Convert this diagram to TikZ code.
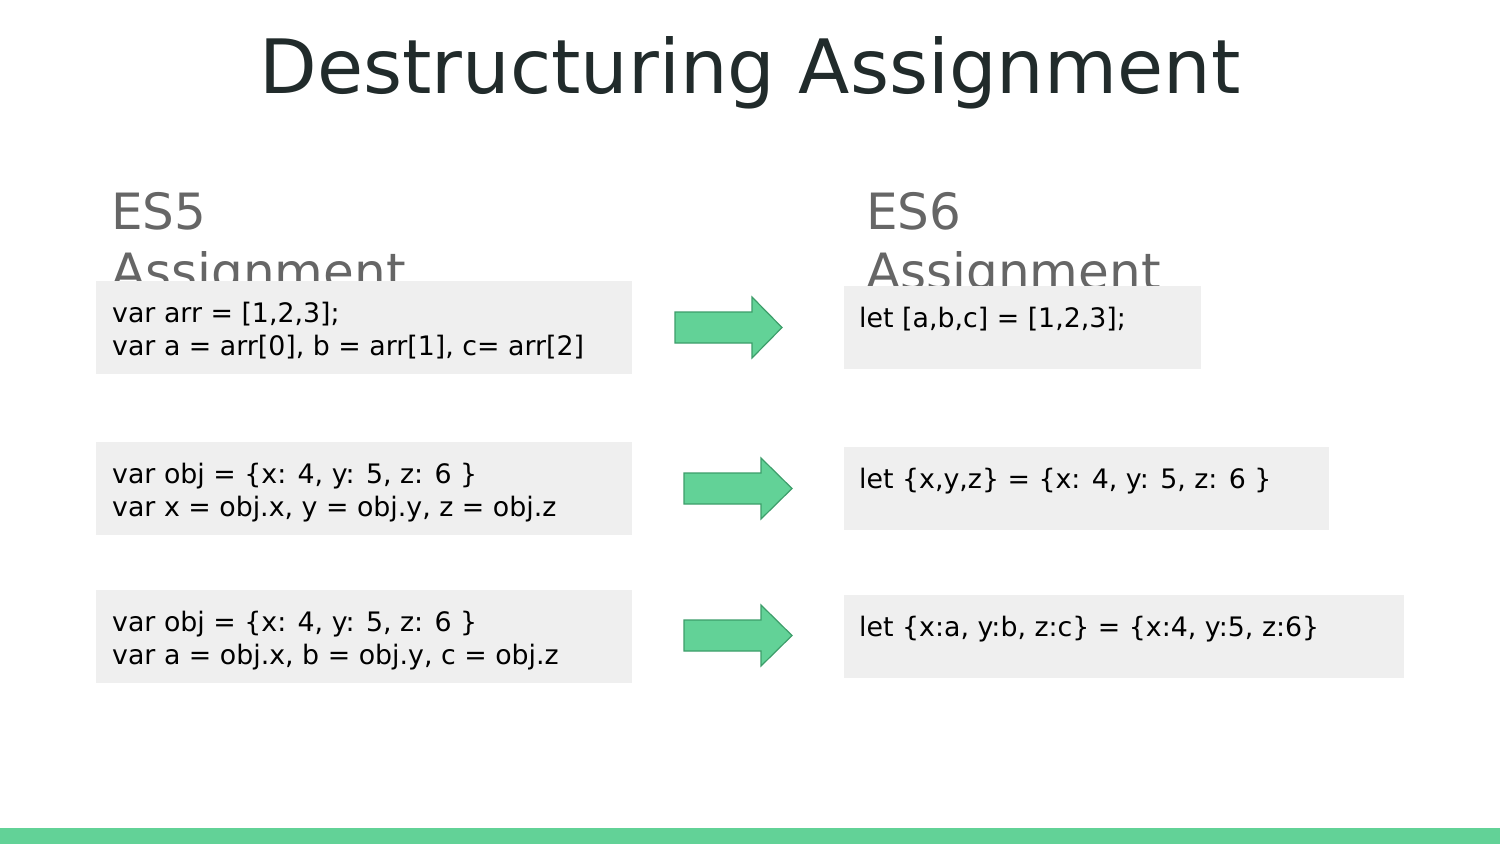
\documentclass[tikz,border=0pt]{standalone}
\usepackage{fontspec}
\setmainfont{DejaVu Sans}
\definecolor{titlec}{HTML}{212B2B}
\definecolor{headc}{HTML}{666666}
\definecolor{boxc}{HTML}{EFEFEF}
\definecolor{greenf}{HTML}{62D297}
\definecolor{greend}{HTML}{3D9E6A}
\tikzset{
  codebox/.style={fill=boxc,draw=none},
  codetext/.style={anchor=base west,inner sep=0pt,font=\fontsize{26.8}{32.5}\selectfont,text=black,align=left},
  headtext/.style={anchor=base west,inner sep=0pt,font=\fontsize{50}{60}\selectfont,text=headc},
  bigarrow/.style={fill=greenf,draw=greend,line width=1.2pt,line join=miter},
}
\newcommand{\greenarrow}[4]{% x0, x1, y center, head start
  \draw[bigarrow] (#1,#3-15.5) -- (#4,#3-15.5) -- (#4,#3-30.5) -- (#2,#3) -- (#4,#3+30.5) -- (#4,#3+15.5) -- (#1,#3+15.5) -- cycle;
}
\begin{document}
\begin{tikzpicture}[x=1pt,y=-1pt]
\useasboundingbox (0,0) rectangle (1500,844);
\fill[white] (0,0) rectangle (1500,844);
\node[anchor=base,inner sep=0pt,font=\fontsize{75}{90}\selectfont,text=titlec] (title) at (750,93) {Destructuring Assignment};
\node[headtext] (es5a) at (111,229) {ES5};
\node[headtext] (es5b) at (111,289) {Assignment};
\node[headtext] (es6a) at (866,229) {ES6};
\node[headtext] (es6b) at (866,289) {Assignment};
% boxes
\fill[codebox] (96,281) rectangle (632,374);
\fill[codebox] (844,286) rectangle (1201,369);
\fill[codebox] (96,442) rectangle (632,535);
\fill[codebox] (844,447) rectangle (1329,530);
\fill[codebox] (96,590) rectangle (632,683);
\fill[codebox] (844,595) rectangle (1404,678);
% texts (base anchor = baseline of the last line)
\node[codetext] (l1) at (112,355) {var arr = [1,2,3];\\var a = arr[0], b = arr[1], c= arr[2]};
\node[codetext] (r1) at (859,327.7) {let [a,b,c] = [1,2,3];};
\node[codetext] (l2) at (112,516) {var obj = \{x: 4, y: 5, z: 6 \}\\var x = obj.x, y = obj.y, z = obj.z};
\node[codetext] (r2) at (859,488.7) {let \{x,y,z\} = \{x: 4, y: 5, z: 6 \}};
\node[codetext] (l3) at (112,664) {var obj = \{x: 4, y: 5, z: 6 \}\\var a = obj.x, b = obj.y, c = obj.z};
\node[codetext] (r3) at (859,636.7) {let \{x:a, y:b, z:c\} = \{x:4, y:5, z:6\}};
% arrows
\greenarrow{675}{782}{327.5}{752}
\greenarrow{684}{792}{488.5}{761}
\greenarrow{684}{792}{635.5}{761}
% bottom bar
\fill[greenf] (0,828) rectangle (1500,844);
\end{tikzpicture}
\end{document}
